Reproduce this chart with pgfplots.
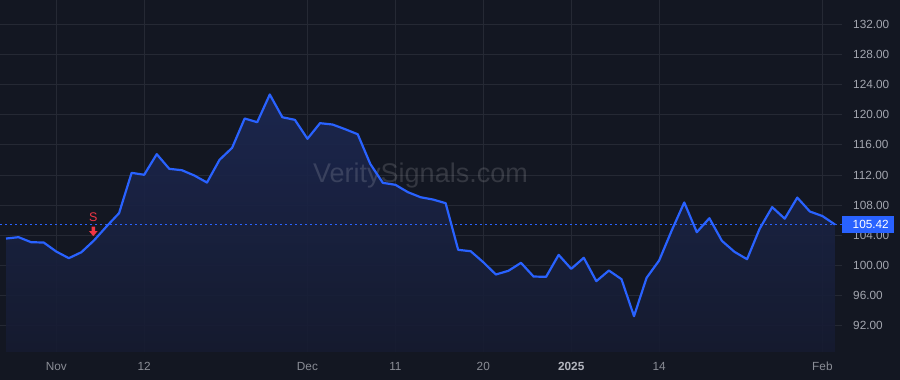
\documentclass[border=0pt]{standalone}
\usepackage{pgfplots}
\usepackage{pgfplotstable}
\pgfplotsset{compat=1.18}
\usepackage{fontspec}
\setmainfont{Liberation Sans}
\definecolor{bgc}{HTML}{131722}
\definecolor{gridc}{HTML}{252934}
\definecolor{pblue}{HTML}{2962FF}
\definecolor{areatop}{HTML}{1C2852}
\definecolor{areabot}{HTML}{161B30}
\definecolor{ylab}{HTML}{A3A6AF}
\definecolor{xlab}{HTML}{8A8D96}
\definecolor{xlabb}{HTML}{B2B5BE}
\definecolor{sred}{HTML}{F23645}

\pgfdeclareplotmark{sellarrow}{%
 \pgfpathmoveto{\pgfpoint{0pt}{0pt}}%
 \pgfpathlineto{\pgfpoint{-4.2pt}{5pt}}%
 \pgfpathlineto{\pgfpoint{-1.7pt}{5pt}}%
 \pgfpathlineto{\pgfpoint{-1.7pt}{9.5pt}}%
 \pgfpathlineto{\pgfpoint{1.7pt}{9.5pt}}%
 \pgfpathlineto{\pgfpoint{1.7pt}{5pt}}%
 \pgfpathlineto{\pgfpoint{4.2pt}{5pt}}%
 \pgfpathclose
 \pgfusepathqfill
}

\pgfplotstableread{
idx val
-4 103.56
-3 103.74
-2 103.07
-1 103.03
0 101.83
1 100.95
2 101.74
3 103.30
4 105.16
5 106.93
6 112.29
7 112.03
8 114.77
9 112.82
10 112.64
11 111.93
12 111.00
13 114.02
14 115.61
15 119.51
16 119.02
17 122.70
18 119.68
19 119.33
20 116.81
21 118.89
22 118.71
23 118.09
24 117.42
25 113.48
26 110.96
27 110.70
28 109.72
29 109.05
30 108.74
31 108.26
32 102.06
33 101.87
34 100.41
35 98.78
36 99.27
37 100.33
38 98.51
39 98.47
40 101.39
41 99.53
42 101.00
43 97.89
44 99.31
45 98.16
46 93.24
47 98.34
48 100.64
49 104.62
50 108.35
51 104.40
52 106.26
53 103.25
54 101.79
55 100.81
56 104.85
57 107.73
58 106.20
59 109.00
60 107.15
61 106.55
62 105.42
}\pricedata

\begin{document}
\begin{tikzpicture}
\fill[bgc] (0,0) rectangle (900pt,380pt);
\path[use as bounding box] (0,0) rectangle (900pt,380pt);
\begin{axis}[
  at={(0pt,28pt)}, anchor=south west,
  scale only axis, width=842pt, height=352pt,
  xmin=-4.48, xmax=62.56, ymin=88.48, ymax=135.26,
  axis line style={draw=none},
  tick style={draw=none},
  grid=major,
  grid style={gridc, line width=1pt},
  ytick={92,96,...,132},
  yticklabel pos=right,
  yticklabel style={anchor=west, inner sep=0pt, xshift=11pt, text=ylab, font=\fontsize{11.8}{12}\selectfont,
    /pgf/number format/fixed, /pgf/number format/fixed zerofill, /pgf/number format/precision=2, /pgf/number format/assume math mode=true},
  xtick={0,7,20,27,34,41,48,61},
  xticklabels={Nov,12,Dec,11,20,{\bfseries\color{xlabb}2025},14,Feb},
  xticklabel style={anchor=base, inner sep=0pt, yshift=-19pt, text=xlab, font=\fontsize{11.8}{12}\selectfont},
]
\addplot[draw=none, top color=areatop, bottom color=areabot, fill opacity=0.9] table[x=idx, y=val] {\pricedata} -- (axis cs:62,88.48) -- (axis cs:-4,88.48) -- cycle;
\node[text=white, text opacity=0.14, font=\fontsize{27}{27}\selectfont, anchor=base, inner sep=0pt] at (axis cs:29.0,111.04) {VeritySignals.com};
\addplot[pblue, line width=1pt, dash pattern=on 2pt off 3pt] coordinates {(-4.48,105.42) (62.56,105.42)};
\addplot[pblue, line width=2.2pt, line join=round] table[x=idx, y=val] {\pricedata};
\addplot[only marks, mark=sellarrow, color=sred, mark options={fill=sred, draw=none},
  nodes near coords={S}, nodes near coords style={anchor=center, yshift=19pt, text=sred, font=\fontsize{12.5}{13}\selectfont}] coordinates {(2.95,103.87)};
\coordinate (pl) at (axis cs:62.56,105.42);
\end{axis}
\fill[pblue] ([yshift=-8.5pt]pl) rectangle ([xshift=52pt,yshift=8.5pt]pl);
\node[anchor=west, inner sep=0pt, text=white, font=\fontsize{11.8}{12}\selectfont] at ([xshift=10.5pt]pl) {105.42};
\end{tikzpicture}
\end{document}
